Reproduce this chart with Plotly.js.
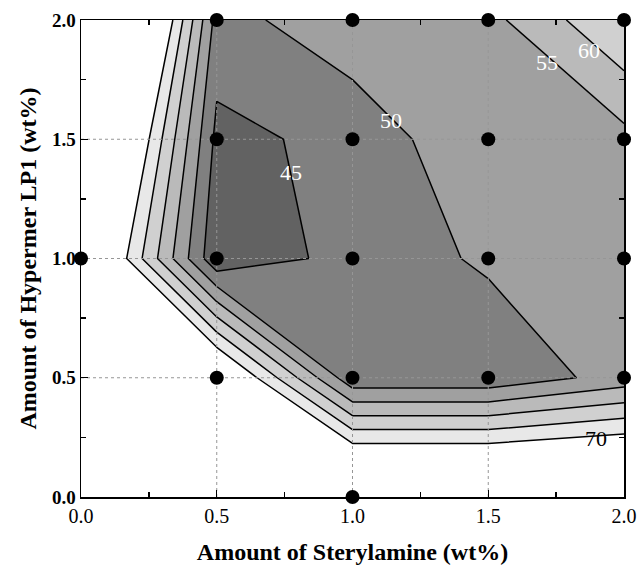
<!DOCTYPE html>
<html>
<head>
<meta charset="utf-8">
<script src="https://cdn.plot.ly/plotly-3.0.1.min.js"></script>
<style>html,body{margin:0;padding:0;background:#fff;}#chart{width:639px;height:567px;}</style>
</head>
<body>
<div id="chart"></div>
<script>
// Grid of the contour surface (wt%)
var sterylamine = [0, 0.5, 1.0, 1.5, 2.0];
var hypermer = [0, 0.5, 1.0, 1.5, 2.0];
// Response values, one row per Hypermer level
var zRow00 = [130, 115, 89.3, 89.3, 90.2];
var zRow05 = [110, 80, 46.3, 46.3, 52];
var zRow10 = [84.8, 40.8, 47, 50.75, 53];
var zRow15 = [96.6, 43.6, 46.45, 54.5, 53.5];
var zRow20 = [116, 48, 53.55, 53.5, 64.8];
// Experimental design points (black dots)
var pointX = [0.5, 1.0, 1.5, 2.0, 0.5, 1.0, 1.5, 2.0, 0.0, 0.5, 1.0, 1.5, 2.0, 0.5, 1.0, 1.5, 2.0, 1.0];
var pointY = [2.0, 2.0, 2.0, 2.0, 1.5, 1.5, 1.5, 1.5, 1.0, 1.0, 1.0, 1.0, 1.0, 0.5, 0.5, 0.5, 0.5, 0.0];
// Contour levels and labels
var levelStart = 45, levelEnd = 70, levelStep = 5;
var tickVals = [0, 0.5, 1.0, 1.5, 2.0];
var tickText = ['0.0', '0.5', '1.0', '1.5', '2.0'];
var gridVals = [0.5, 1.0, 1.5];
var labelText = ['45', '50', '55', '60', '70'];
var labelX = [0.775, 1.14, 1.717, 1.87, 1.896];
var labelY = [1.36, 1.58, 1.82, 1.874, 0.246];
var labelColor = ['#ffffff', '#ffffff', '#ffffff', '#ffffff', '#000000'];

var serif = 'Liberation Serif';

var contour = {
  type: 'contour',
  x: sterylamine,
  y: hypermer,
  z: [zRow00, zRow05, zRow10, zRow15, zRow20],
  autocontour: false,
  contours: {start: levelStart, end: levelEnd, size: levelStep, coloring: 'fill', showlabels: false},
  colorscale: [
    [0, 'rgb(98,98,98)'],
    [1/6, 'rgb(128,128,128)'],
    [2/6, 'rgb(160,160,160)'],
    [3/6, 'rgb(186,186,186)'],
    [4/6, 'rgb(208,208,208)'],
    [5/6, 'rgb(232,232,232)'],
    [1, 'rgb(255,255,255)']
  ],
  line: {color: '#000', width: 1.5, smoothing: 0},
  showscale: false,
  hoverinfo: 'skip'
};

// Dotted grid lines drawn over the filled contours (from the tick grid values)
var gridTraces = [];
gridVals.forEach(function (v) {
  gridTraces.push({type: 'scatter', mode: 'lines', x: [v, v], y: [0, 2],
    line: {color: 'rgb(150,150,150)', width: 1, dash: 'dot'}, hoverinfo: 'skip'});
  gridTraces.push({type: 'scatter', mode: 'lines', x: [0, 2], y: [v, v],
    line: {color: 'rgb(150,150,150)', width: 1, dash: 'dot'}, hoverinfo: 'skip'});
});

var dots = {
  type: 'scatter',
  mode: 'markers',
  x: pointX,
  y: pointY,
  marker: {color: '#000', size: 14},
  cliponaxis: false,
  hoverinfo: 'skip'
};

var annotations = labelText.map(function (t, i) {
  return {x: labelX[i], y: labelY[i], xref: 'x', yref: 'y', text: t, showarrow: false,
    font: {family: serif, size: 22, color: labelColor[i]}};
});

var axisCommon = {
  range: [0, 2],
  tickmode: 'array',
  tickvals: tickVals,
  ticktext: tickText,
  ticks: 'inside',
  ticklen: 7,
  tickwidth: 1.3,
  tickcolor: '#000',
  minor: {ticks: 'inside', dtick: 0.25, ticklen: 5, tickwidth: 1.3, tickcolor: '#000', showgrid: false},
  showline: true,
  linecolor: '#000',
  linewidth: 1.5,
  mirror: 'ticks',
  showgrid: false,
  zeroline: false,
  layer: 'above traces',
  fixedrange: true
};

var layout = {
  width: 639,
  height: 567,
  margin: {l: 81, r: 15, t: 20, b: 70},
  paper_bgcolor: '#fff',
  plot_bgcolor: '#fff',
  showlegend: false,
  font: {family: serif, color: '#000'},
  xaxis: Object.assign({}, axisCommon, {
    tickfont: {family: serif, size: 20, color: '#000'},
    title: {text: 'Amount of Sterylamine (wt%)', font: {family: serif, size: 24, color: '#000', weight: 'bold'}, standoff: 17},
    automargin: false
  }),
  yaxis: Object.assign({}, axisCommon, {
    tickfont: {family: serif, size: 19, color: '#000', weight: 'bold'},
    title: {text: 'Amount of Hypermer LP1 (wt%)', font: {family: serif, size: 24, color: '#000', weight: 'bold'}, standoff: 8},
    automargin: false
  }),
  annotations: annotations
};

Plotly.newPlot('chart', [contour].concat(gridTraces).concat([dots]), layout, {displayModeBar: false, staticPlot: true});
</script>
</body>
</html>
